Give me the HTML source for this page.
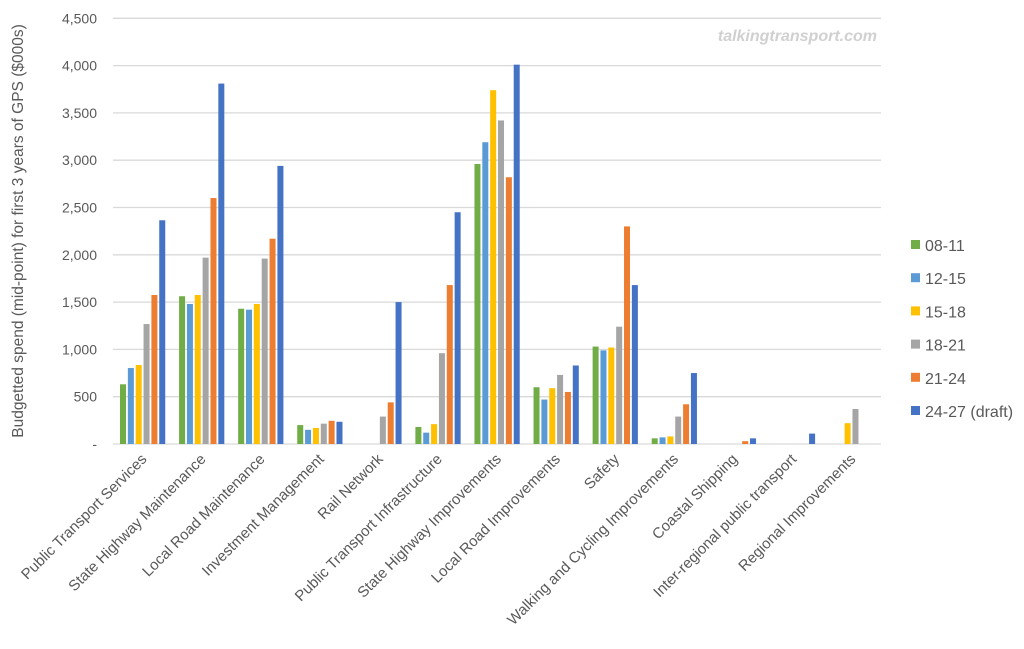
<!DOCTYPE html>
<html><head><meta charset="utf-8"><style>body{margin:0;background:#fff}svg{display:block}text{font-family:"Liberation Sans",sans-serif;fill:#595959}</style></head>
<body>
<svg width="1024" height="649" viewBox="0 0 1024 649" xmlns="http://www.w3.org/2000/svg">
<rect width="1024" height="649" fill="#fff"/>
<g id="grid" stroke="#d9d9d9" stroke-width="1.3"></g>
<g id="bars"></g>
<g id="ylab" font-size="14" text-anchor="end"></g>
<g id="xlab" font-size="15" text-anchor="end"></g>
<text transform="translate(23,231) rotate(-90)" font-size="15.5" text-anchor="middle">Budgetted spend (mid-point) for first 3 years of GPS ($000s)</text>
<text x="877" y="41" font-size="16" font-style="italic" font-weight="bold" text-anchor="end" style="fill:#d0d0d0">talkingtransport.com</text>
<g id="legend" font-size="16"></g>
</svg>
<script>
const NS="http://www.w3.org/2000/svg";
function el(p,t,a,txt){const e=document.createElementNS(NS,t);for(const k in a)e.setAttribute(k,a[k]);if(txt!=null)e.textContent=txt;document.getElementById(p).appendChild(e);}
const y0=444,pp=47.3/500,L=113,R=881,cw=(R-L)/13;
for(let i=0;i<=9;i++){const y=y0-i*47.3;el('grid','line',{x1:L,x2:R,y1:y,y2:y});el('ylab','text',{x:97,y:y+5},i==0?'-':(i*500).toLocaleString('en-US'));}
const cols=['#70ad47','#5b9bd5','#ffc000','#a5a5a5','#ed7d31','#4472c4'];
const names=['Public Transport Services','State Highway Maintenance','Local Road Maintenance','Investment Management','Rail Network','Public Transport Infrastructure','State Highway Improvements','Local Road Improvements','Safety','Walking and Cycling Improvements','Coastal Shipping','Inter-regional public transport','Regional Improvements'];
const d=[[631,803,835,1268,1575,2365],[1562,1480,1575,1970,2600,3810],[1430,1420,1480,1960,2170,2940],[200,150,170,215,245,235],[0,0,0,290,440,1500],[180,120,210,960,1680,2450],[2960,3190,3740,3420,2820,4010],[600,470,590,730,550,830],[1030,990,1020,1240,2300,1680],[60,70,80,290,420,750],[0,0,0,0,30,60],[0,0,0,0,0,110],[0,0,220,370,0,0]];
d.forEach((v,i)=>{const s=L+i*cw+7;v.forEach((x,j)=>{if(x>0){const h=x*pp;el('bars','rect',{x:s+j*7.85,y:y0-h,width:6,height:h,fill:cols[j]});}});
const cx=L+i*cw+cw/2;el('xlab','text',{transform:`translate(${cx+5},${y0+16}) rotate(-45)`},names[i]);});
const lg=['08-11','12-15','15-18','18-21','21-24','24-27 (draft)'];
lg.forEach((t,j)=>{const y=245+j*33.2;el('legend','rect',{x:911,y:y-5,width:9,height:9,fill:cols[j]});el('legend','text',{x:925,y:y+6},t);});
</script>
</body></html>
